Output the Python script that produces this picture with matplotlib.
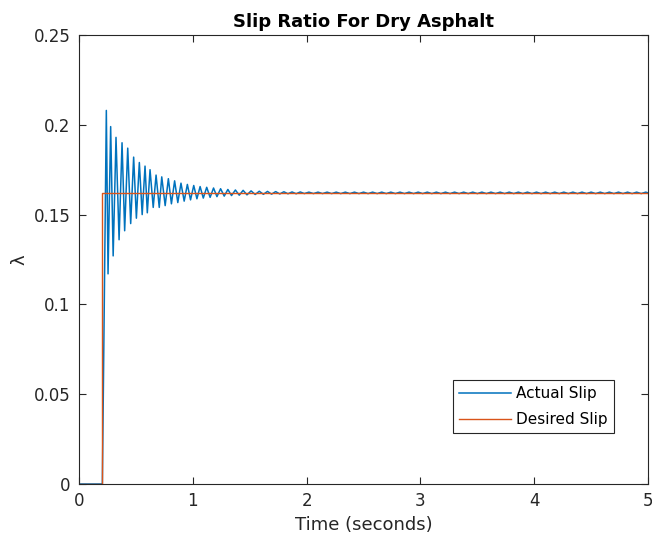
import numpy as np
import matplotlib
matplotlib.use('Agg')
import matplotlib.pyplot as plt

# desired slip (step at 0.2 s)
t_des = [0.0, 0.2, 0.2, 5.0]
lam_des = [0.0, 0.0, 0.162, 0.162]

# actual slip, peaks / troughs
t_act = [0.0, 0.205, 0.240, 0.255, 0.278, 0.300, 0.325, 0.352, 0.378, 0.401,
         0.428, 0.454, 0.480, 0.504, 0.530, 0.555, 0.580, 0.600, 0.624, 0.652,
         0.677, 0.705, 0.727, 0.757, 0.785, 0.812, 0.840, 0.868, 0.896, 0.924,
         0.952, 0.980, 1.008, 1.036, 1.064, 1.092, 1.122, 1.152, 1.182, 1.212,
         1.244, 1.276, 1.308, 1.340, 1.374, 1.408, 1.442, 1.476, 1.512, 1.548,
         1.584, 1.620, 1.656, 1.692, 1.728, 1.764, 1.800, 1.836, 1.872, 1.908,
         1.944, 1.980,
         2.02, 2.06, 2.10, 2.14, 2.18, 2.22, 2.26, 2.30, 2.34, 2.38,
         2.42, 2.46, 2.50, 2.54, 2.58, 2.62, 2.66, 2.70, 2.74, 2.78,
         2.82, 2.86, 2.90, 2.94, 2.98, 3.02, 3.06, 3.10, 3.14, 3.18,
         3.22, 3.26, 3.30, 3.34, 3.38, 3.42, 3.46, 3.50, 3.54, 3.58,
         3.62, 3.66, 3.70, 3.74, 3.78, 3.82, 3.86, 3.90, 3.94, 3.98,
         4.02, 4.06, 4.10, 4.14, 4.18, 4.22, 4.26, 4.30, 4.34, 4.38,
         4.42, 4.46, 4.50, 4.54, 4.58, 4.62, 4.66, 4.70, 4.74, 4.78,
         4.82, 4.86, 4.90, 4.94, 4.98, 5.00]
lam_act = [0.0, 0.0, 0.208, 0.117, 0.199, 0.127, 0.193, 0.136, 0.190, 0.141,
           0.187, 0.145, 0.182, 0.148, 0.179, 0.150, 0.177, 0.151, 0.175, 0.154,
           0.172, 0.154, 0.171, 0.155, 0.170, 0.156, 0.1688, 0.1567, 0.1675, 0.1575,
           0.1668, 0.1582, 0.1662, 0.1588, 0.1656, 0.1592, 0.1652, 0.1596, 0.1648, 0.1600,
           0.1644, 0.1603, 0.1640, 0.1606, 0.1637, 0.1608, 0.1635, 0.1610, 0.1632, 0.1612,
           0.1630, 0.1613, 0.1629, 0.1614, 0.1628, 0.1615, 0.1627, 0.1616, 0.1626, 0.1616,
           0.1626, 0.1617,
           0.1625, 0.1617, 0.1625, 0.1617, 0.1625, 0.1617, 0.1625, 0.1617, 0.1625, 0.1617,
           0.1625, 0.1617, 0.1625, 0.1617, 0.1625, 0.1617, 0.1625, 0.1617, 0.1625, 0.1617,
           0.1625, 0.1617, 0.1625, 0.1617, 0.1625, 0.1617, 0.1625, 0.1617, 0.1625, 0.1617,
           0.1625, 0.1617, 0.1625, 0.1617, 0.1625, 0.1617, 0.1625, 0.1617, 0.1625, 0.1617,
           0.1625, 0.1617, 0.1625, 0.1617, 0.1625, 0.1617, 0.1625, 0.1617, 0.1625, 0.1617,
           0.1625, 0.1617, 0.1625, 0.1617, 0.1625, 0.1617, 0.1625, 0.1617, 0.1625, 0.1617,
           0.1625, 0.1617, 0.1625, 0.1617, 0.1625, 0.1617, 0.1625, 0.1617, 0.1625, 0.1617,
           0.1625, 0.1617, 0.1625, 0.1617, 0.1625, 0.1621]

x_ticks = [0, 1, 2, 3, 4, 5]
y_ticks = [0, 0.05, 0.1, 0.15, 0.2, 0.25]
y_ticklabels = ['0', '0.05', '0.1', '0.15', '0.2', '0.25']

ax_col = '#262626'
plt.rcParams['font.family'] = 'DejaVu Sans'

fig = plt.figure(figsize=(6.52, 5.41), dpi=100)
ax = fig.add_axes([0.1212, 0.1054, 0.8727, 0.8299])

ax.plot(t_act, lam_act, color='#0072BD', lw=1.1, label='Actual Slip')
ax.plot(t_des, lam_des, color='#D95319', lw=1.0, label='Desired Slip')

ax.set_xlim(0, 5)
ax.set_ylim(0, 0.25)
ax.set_xticks(x_ticks)
ax.set_yticks(y_ticks)
ax.set_yticklabels(y_ticklabels)
ax.tick_params(direction='in', length=5, width=0.8, top=True, right=True,
               labelsize=12, colors=ax_col, pad=6)
for s in ax.spines.values():
    s.set_color(ax_col)
    s.set_linewidth(0.8)

ax.set_xlabel('Time (seconds)', fontsize=13, color=ax_col, labelpad=4)
ax.set_ylabel('λ', fontsize=13, color=ax_col, labelpad=4)
ax.set_title('Slip Ratio For Dry Asphalt', fontsize=13, fontweight='bold', pad=6)

leg = ax.legend(loc='lower right', bbox_to_anchor=(0.940, 0.1136), borderaxespad=0,
                fontsize=11, fancybox=False, edgecolor=ax_col, framealpha=1,
                handlelength=3.4, handletextpad=0.35, borderpad=0.4, labelspacing=0.7)
leg.get_frame().set_linewidth(0.8)

fig.savefig('out.png', dpi=100)
